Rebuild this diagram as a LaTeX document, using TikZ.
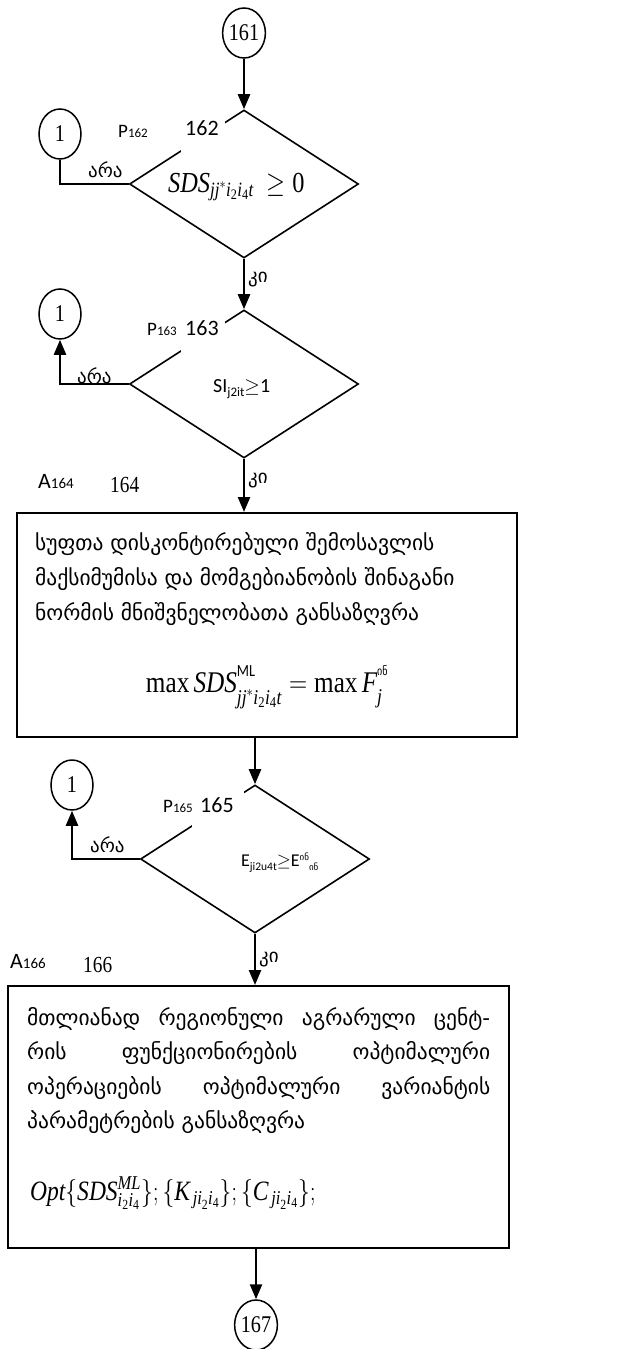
\documentclass[tikz,border=0pt]{standalone}
\usepackage{fix-cm}
\usepackage{amsmath}
\usepackage{graphicx}
\usepackage{fontspec}
\setmainfont{Liberation Serif}
\newfontfamily\nfont[FakeStretch=0.84]{Liberation Serif}
\newfontfamily\geofont{DejaVu Sans}
\newfontfamily\calfont{Carlito}
\usetikzlibrary{shapes.geometric,arrows.meta}
\tikzset{
  conn/.style={line width=2.4pt,-{Triangle[length=15pt,width=12pt]}},
  plainline/.style={line width=2.4pt},
  dec/.style={draw,diamond,line width=1.6pt,minimum width=229pt,minimum height=148pt,inner sep=0pt},
  con/.style={draw,ellipse,line width=1.5pt,minimum width=42pt,minimum height=50pt,inner sep=0pt,font=\nfont\fontsize{24}{26}\selectfont},
  proc/.style={draw,rectangle,line width=2pt,inner sep=0pt},
  txt/.style={inner sep=0pt,anchor=base west},
  geotxt/.style={txt,font=\geofont\fontsize{21.5}{25}\selectfont},
  yn/.style={txt,font=\geofont\fontsize{19}{21}\selectfont},
  num/.style={txt,font=\calfont\fontsize{22}{24}\selectfont},
  tagp/.style={txt,font=\calfont\fontsize{19}{21}\selectfont},
  taga/.style={txt,font=\calfont\fontsize{22}{24}\selectfont},
  numser/.style={txt,font=\nfont\fontsize{23}{25}\selectfont},
  gap/.style={fill=white}
}
\newcommand\squeeze[1]{\scalebox{0.84}[1]{#1}}
\newcommand\md[1]{\mathrm{#1}}
\begin{document}
\begin{tikzpicture}[x=1pt,y=-1pt]
\useasboundingbox (0,0) rectangle (619,1349);
% connectors / decisions
\node[con] (c161) at (244,33) {161};
\node[dec] (d1) at (244,184) {};
\node[con] (c1a) at (60,134) {1};
\node[dec] (d2) at (244,384) {};
\node[con] (c1b) at (60,314) {1};
\node[proc,minimum width=500pt,minimum height=224pt] (b1) at (267,625) {};
\node[dec] (d3) at (255,859) {};
\node[con] (c1c) at (72,785) {1};
\node[proc,minimum width=501pt,minimum height=262pt] (b2) at (258.5,1117) {};
\node[con] (c167) at (256,1325) {167};
% gaps in diamond edges
\fill[gap] (181,117) rectangle (225,152);
\fill[gap] (181,317) rectangle (225,352);
\fill[gap] (192,789) rectangle (244,828);
% labels of decisions
\node[tagp] (p162) at (118,137) {P\fontsize{13}{14}\selectfont 162};
\node[num] (n162) at (185,135) {162};
\node[tagp] (p163) at (147,335) {P\fontsize{13}{14}\selectfont 163};
\node[num] (n163) at (185,335) {163};
\node[tagp] (p165) at (163,812) {P\fontsize{13}{14}\selectfont 165};
\node[num] (n165) at (200,812) {165};
\node[taga] (a164) at (38,488) {A\fontsize{15}{16}\selectfont 164};
\node[numser] (n164) at (110,492) {164};
\node[taga] (a166) at (10,968) {A\fontsize{15}{16}\selectfont 166};
\node[numser] (n166) at (83,972) {166};
% conditions
\node[txt,font=\fontsize{29}{31}\selectfont] (f1) at (168,192)
  {\squeeze{$\mathit{SDS}_{\mathit{jj}^{*}\mathit{i}_{\md{2}}\mathit{i}_{\md{4}}\mathit{t}}\ \geq \md{0}$}};
\node[txt,font=\calfont\fontsize{20}{22}\selectfont] (f2) at (213,392)
  {SI\raisebox{-4pt}{\fontsize{13}{14}\selectfont j2it}$\geq$1};
\node[txt,font=\calfont\fontsize{18}{21}\selectfont] (f3) at (241,866)
  {E\raisebox{-4pt}{\fontsize{11.5}{13}\selectfont ji2u4t}$\geq$E\raisebox{6pt}{\geofont\fontsize{9}{10}\selectfont ინ}\raisebox{-4pt}{\geofont\fontsize{9}{10}\selectfont ინ}};
% process texts
\node[geotxt] (t1a) at (35,550) {სუფთა დისკონტირებული შემოსავლის};
\node[geotxt] (t1b) at (35,585) {მაქსიმუმისა და მომგებიანობის შინაგანი};
\node[geotxt] (t1c) at (35,620) {ნორმის მნიშვნელობათა განსაზღვრა};
\node[txt,font=\fontsize{30}{32}\selectfont,anchor=base] (f4) at (267,692)
  {\squeeze{$\max \mathit{SDS}^{\raisebox{4pt}{\calfont\fontsize{17}{18}\selectfont ML}}_{\raisebox{-5pt}{$\scriptstyle\mathit{jj}^{*}\mathit{i}_{\md{2}}\mathit{i}_{\md{4}}\mathit{t}$}}=\max \mathit{F}_{\raisebox{-4pt}{$\scriptstyle\mathit{j}$}}^{\raisebox{6pt}{\geofont\fontsize{12}{13}\selectfont ინ}}$}};
\node[geotxt] (t2a) at (27,1025) {\makebox[463pt][s]{მთლიანად\hfill რეგიონული\hfill აგრარული\hfill ცენტ-}};
\node[geotxt] (t2b) at (27,1059) {\makebox[463pt][s]{რის\hfill ფუნქციონირების\hfill ოპტიმალური}};
\node[geotxt] (t2c) at (27,1094) {\makebox[463pt][s]{ოპერაციების\hfill ოპტიმალური\hfill ვარიანტის}};
\node[geotxt] (t2d) at (27,1128) {პარამეტრების განსაზღვრა};
\node[txt,font=\fontsize{28}{30}\selectfont] (f5) at (30,1200)
  {\squeeze{$\mathit{Opt}\{\mathit{SDS}^{\mathit{ML}}_{\mathit{i}_{\md{2}}\mathit{i}_{\md{4}}}\}{;}\,\{\mathit{K}_{\,\mathit{ji}_{\md{2}}\mathit{i}_{\md{4}}}\}{;}\,\{\mathit{C}_{\,\mathit{ji}_{\md{2}}\mathit{i}_{\md{4}}}\}{;}$}};
% flow
\draw[conn] (c161) -- (d1.north);
\draw[plainline] (d1.west) -| (c1a.south);
\node[yn] (no1) at (88,177) {არა};
\draw[conn] (d1.south) -- (d2.north);
\node[yn] (yes1) at (248,282) {კი};
\draw[conn] (d2.west) -| (c1b.south);
\node[yn] (no2) at (77,383) {არა};
\draw[conn] (d2.south) -- (d2.south |- b1.north);
\node[yn] (yes2) at (248,483) {კი};
\draw[conn] (b1.south -| d3.north) -- (d3.north);
\draw[conn] (d3.west) -| (c1c.south);
\node[yn] (no3) at (90,852) {არა};
\draw[conn] (d3.south) -- (d3.south |- b2.north);
\node[yn] (yes3) at (259,962) {კი};
\draw[conn] (b2.south -| c167.north) -- (c167.north);
\end{tikzpicture}
\end{document}
